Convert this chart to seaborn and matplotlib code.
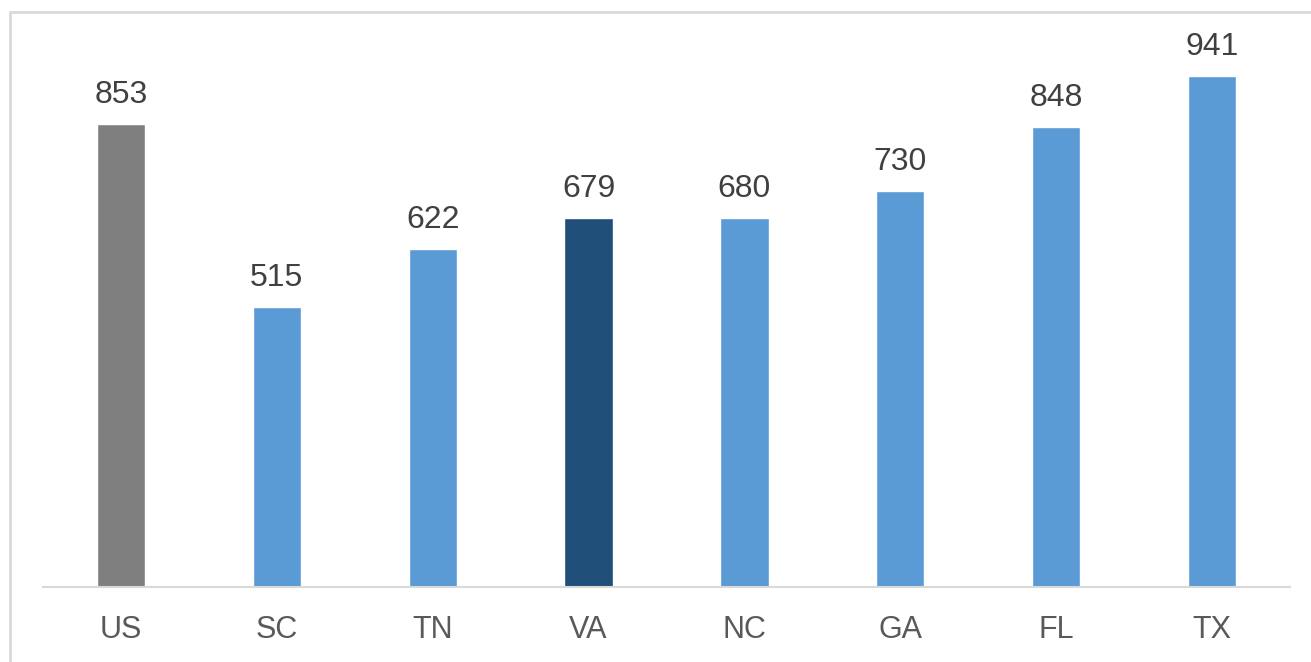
import pandas as pd
import matplotlib
matplotlib.use("Agg")
import matplotlib.pyplot as plt
from matplotlib.lines import Line2D
import seaborn as sns

states = ["US", "SC", "TN", "VA", "NC", "GA", "FL", "TX"]
values = [853, 515, 622, 679, 680, 730, 848, 941]
bar_colors = ["#7f7f7f", "#5b9bd5", "#5b9bd5", "#1f4e79",
              "#5b9bd5", "#5b9bd5", "#5b9bd5", "#5b9bd5"]

sns.set_style("white")
plt.rcParams["font.family"] = ["Liberation Sans", "DejaVu Sans"]

df = pd.DataFrame({"state": states, "value": values})

fig = plt.figure(figsize=(13.11, 6.62), dpi=100)
ax = fig.add_axes([43 / 1311, 75 / 662, 1247 / 1311, 543 / 662])

sns.barplot(data=df, x="state", y="value", hue="state",
            palette=dict(zip(states, bar_colors)), width=0.31,
            legend=False, ax=ax, saturation=1)

for cont in ax.containers:
    ax.bar_label(cont, fmt="%d", padding=10, fontsize=23, color="#404040")

ax.set_xlim(-0.5, len(states) - 0.5)
ax.set_ylim(0, 1000)
ax.set_xlabel("")
ax.set_ylabel("")
ax.set_yticks([])
ax.tick_params(axis="x", length=0, pad=20, labelsize=22, labelcolor="#595959")
for side in ["top", "right", "left"]:
    ax.spines[side].set_visible(False)
ax.spines["bottom"].set_color("#d9d9d9")
ax.spines["bottom"].set_linewidth(1.5)

# light frame around the chart area
fig.add_artist(Line2D([10 / 1311, 10 / 1311], [0, 1 - 12 / 662],
                      transform=fig.transFigure, color="#d9d9d9", linewidth=2))
fig.add_artist(Line2D([10 / 1311, 1], [1 - 12 / 662, 1 - 12 / 662],
                      transform=fig.transFigure, color="#d9d9d9", linewidth=2))

fig.savefig("out.png", dpi=100)
